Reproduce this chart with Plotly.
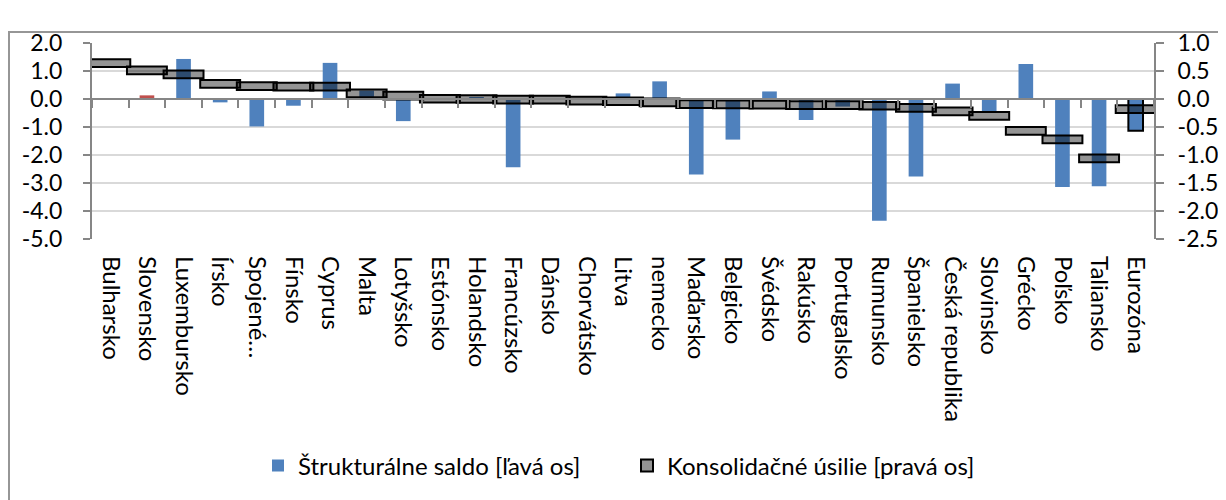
import plotly.graph_objects as go

countries = [
    "Bulharsko", "Slovensko", "Luxembursko", "Írsko", "Spojené…", "Fínsko",
    "Cyprus", "Malta", "Lotyšsko", "Estónsko", "Holandsko", "Francúzsko",
    "Dánsko", "Chorvátsko", "Litva", "nemecko", "Maďarsko", "Belgicko",
    "Švédsko", "Rakúsko", "Portugalsko", "Rumunsko", "Španielsko",
    "Česká republika", "Slovinsko", "Grécko", "Poľsko", "Taliansko", "Eurozóna",
]

# štrukturálne saldo (ľavá os)
saldo = [
    0.0, 0.13, 1.43, -0.12, -0.98, -0.24,
    1.29, 0.30, -0.79, 0.0, 0.07, -2.44,
    0.0, 0.0, 0.20, 0.63, -2.70, -1.45,
    0.27, -0.75, -0.27, -4.35, -2.77,
    0.55, -0.45, 1.25, -3.14, -3.12, -1.13,
]

# konsolidačné úsilie (pravá os)
usilie = [
    0.64, 0.51, 0.44, 0.27, 0.23, 0.22,
    0.22, 0.10, 0.06, 0.005, 0.0, -0.01,
    -0.01, -0.03, -0.04, -0.06, -0.09, -0.095,
    -0.10, -0.11, -0.11, -0.12, -0.16,
    -0.22, -0.30, -0.57, -0.72, -1.06, -0.18,
]

left_ticks = [2, 1, 0, -1, -2, -3, -4, -5]
right_ticks = [1, 0.5, 0, -0.5, -1, -1.5, -2, -2.5]

FONT = "Lato"
FS = 24
FS_Y = 23
AXIS_GRAY = "#868686"
GRID_GRAY = "#D9D9D9"

# plocha grafu na obrazovke: x 92..1154, y 43..239 (telo stránky má okraj 8 px)
PX_L, PX_R, PX_T, PX_B = 92, 1154, 43, 239
BODY = 8


def px_x(px):
    return (px - PX_L) / (PX_R - PX_L)


def px_y(py):
    return (PX_B - py) / (PX_B - PX_T)


def fmt(v):
    return f"{v:.1f}"


bar_colors = ["#C0504D" if c == "Slovensko" else "#4F81BD" for c in countries]
bar_line_w = [2 if c == "Eurozóna" else 0 for c in countries]

box_h = 0.137  # výška obdĺžnika na pravej osi
box_base = [v - box_h / 2 for v in usilie]

fig = go.Figure()

fig.add_trace(go.Bar(
    x=countries,
    y=saldo,
    name="Štrukturálne saldo [ľavá os]",
    marker=dict(color=bar_colors, line=dict(color="black", width=bar_line_w)),
    width=0.4,
    xaxis="x",
    yaxis="y",
))

fig.add_trace(go.Bar(
    x=countries,
    y=[box_h] * len(countries),
    base=box_base,
    name="Konsolidačné úsilie [pravá os]",
    marker=dict(color="rgba(0,0,0,0.42)", line=dict(color="black", width=2)),
    width=1.09,
    xaxis="x2",
    yaxis="y2",
    customdata=usilie,
    hovertemplate="%{x}: %{customdata}<extra></extra>",
))

n = len(countries)
W, H = 1226 - BODY, 500 - BODY

fig.update_layout(
    width=W,
    height=H,
    margin=dict(
        l=PX_L - BODY,
        r=W - (PX_R - BODY),
        t=PX_T - BODY,
        b=H - (PX_B - BODY),
        autoexpand=False,
    ),
    paper_bgcolor="white",
    plot_bgcolor="white",
    barmode="overlay",
    showlegend=True,
    font=dict(family=FONT, size=FS, color="black"),
    xaxis=dict(
        type="category",
        categoryorder="array",
        categoryarray=countries,
        range=[-0.5, n - 0.5],
        showline=False,
        ticks="",
        tickangle=90,
        ticklabelstandoff=16,
        tickfont=dict(family=FONT, size=FS),
        showgrid=False,
        zeroline=False,
    ),
    xaxis2=dict(
        type="category",
        categoryorder="array",
        categoryarray=countries,
        range=[-0.5, n - 0.5],
        overlaying="x",
        anchor="free",
        position=(0 - -5) / 7,
        side="bottom",
        showline=True,
        linecolor=AXIS_GRAY,
        linewidth=2,
        ticks="outside",
        tickson="boundaries",
        ticklen=8,
        tickwidth=2,
        tickcolor=AXIS_GRAY,
        showticklabels=False,
        showgrid=False,
        zeroline=False,
    ),
    yaxis=dict(
        range=[-5, 2],
        tickmode="array",
        tickvals=left_ticks,
        ticktext=[fmt(v) for v in left_ticks],
        showline=True,
        linecolor=AXIS_GRAY,
        linewidth=2,
        ticks="outside",
        ticklen=7,
        tickwidth=2,
        tickcolor=AXIS_GRAY,
        ticklabelstandoff=16,
        showgrid=True,
        gridcolor=GRID_GRAY,
        gridwidth=2,
        zeroline=False,
        tickfont=dict(family=FONT, size=FS_Y),
    ),
    yaxis2=dict(
        range=[-2.5, 1],
        tickmode="array",
        tickvals=right_ticks,
        ticktext=[fmt(v) for v in right_ticks],
        overlaying="y",
        side="right",
        anchor="x",
        showline=True,
        linecolor=AXIS_GRAY,
        linewidth=2,
        ticks="outside",
        ticklen=8,
        tickwidth=2,
        tickcolor=AXIS_GRAY,
        ticklabelstandoff=9,
        showgrid=False,
        zeroline=False,
        tickfont=dict(family=FONT, size=FS_Y),
    ),
    legend=dict(
        orientation="h",
        x=px_x(258),
        xanchor="left",
        y=px_y(466),
        yanchor="middle",
        font=dict(family=FONT, size=FS),
        itemwidth=30,
        entrywidth=324,
        bgcolor="rgba(0,0,0,0)",
    ),
    shapes=[
        dict(
            type="rect",
            xref="paper",
            yref="paper",
            x0=px_x(9),
            x1=px_x(1240),
            y0=px_y(520),
            y1=px_y(32),
            line=dict(color="#969696", width=2),
            fillcolor="rgba(0,0,0,0)",
            layer="below",
        )
    ],
)

fig.write_html("out.html")
